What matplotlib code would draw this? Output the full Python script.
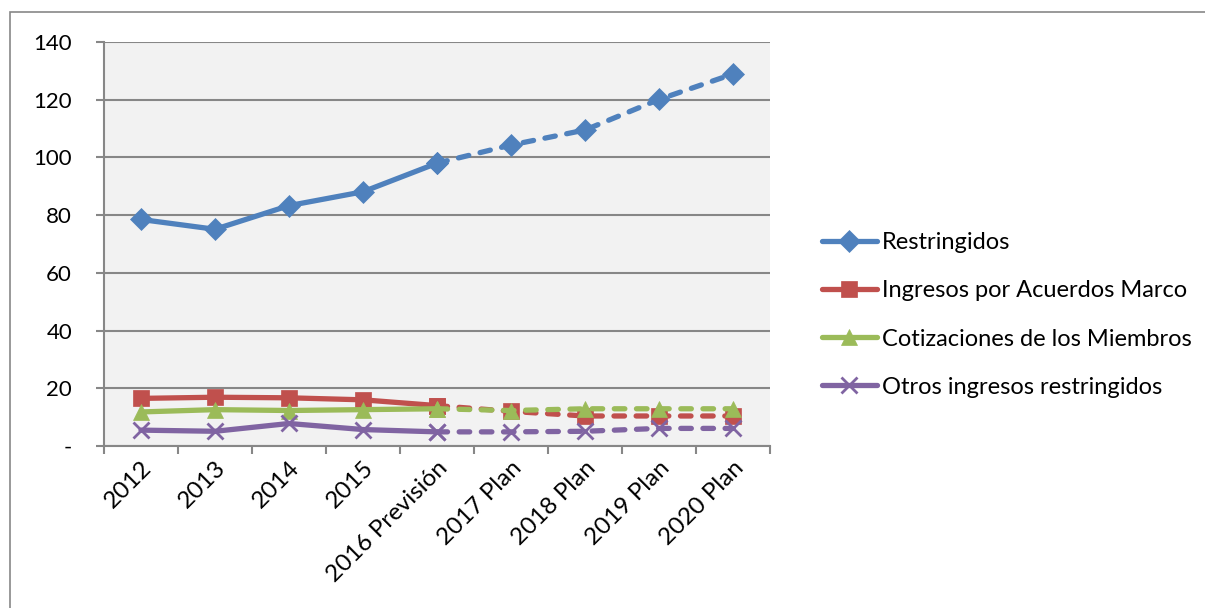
import matplotlib
matplotlib.use("Agg", force=True)
import matplotlib.pyplot as plt
from matplotlib.lines import Line2D
from matplotlib.patches import Rectangle

categories = ["2012", "2013", "2014", "2015", "2016 Previsión",
              "2017 Plan", "2018 Plan", "2019 Plan", "2020 Plan"]
restringidos = [78.5, 75.1, 83.3, 88.1, 98.0, 104.3, 109.5, 120.1, 128.9]
acuerdos_marco = [16.5, 16.9, 16.7, 16.0, 14.0, 12.0, 10.4, 10.4, 10.4]
cotizaciones = [11.8, 12.6, 12.3, 12.6, 12.9, 12.3, 12.9, 12.9, 12.9]
otros = [5.5, 5.1, 7.8, 5.7, 4.9, 4.9, 5.1, 6.1, 6.1]

series = [
    ("Restringidos", restringidos, "#4F81BD", "D", 11),
    ("Ingresos por Acuerdos Marco", acuerdos_marco, "#C0504D", "s", 11),
    ("Cotizaciones de los Miembros", cotizaciones, "#9BBB59", "^", 12),
    ("Otros ingresos restringidos", otros, "#8064A2", "x", 12),
]
split = 4  # last actual value; the rest is forecast / plan

plt.rcParams["font.family"] = ["Lato", "DejaVu Sans"]

fig = plt.figure(figsize=(12.05, 6.08), dpi=100)
W, H = 1205, 608
ax = fig.add_axes([104 / W, 1 - 446 / H, (770 - 104) / W, (446 - 42) / H])

# chart area border
fig.patches.append(Rectangle((10 / W, -0.01), 1.0, 1 - 12 / H + 0.01,
                             transform=fig.transFigure, fill=False,
                             edgecolor="#878787", linewidth=1.2))

ax.set_facecolor("#F2F2F2")
x = list(range(len(categories)))
handles = []
for name, vals, color, mk, ms in series:
    mkw = dict(marker=mk, markersize=ms, color=color, markerfacecolor=color,
               markeredgecolor=color, markeredgewidth=2 if mk == "x" else 0.5)
    ax.plot(x[:split + 1], vals[:split + 1], linewidth=3.8,
            solid_capstyle="round", zorder=3, **mkw)
    ax.plot(x[split:], vals[split:], linewidth=3.8, linestyle=(0, (2.0, 2.2)),
            dash_capstyle="round", zorder=3, **mkw)
    handles.append(Line2D([], [], linewidth=3.8, solid_capstyle="round", **mkw))

ax.set_xlim(-0.5, len(categories) - 0.5)
ax.set_ylim(0, 140)
ax.set_yticks(range(0, 141, 20))
ax.set_yticklabels(["-"] + [str(v) for v in range(20, 141, 20)])
ax.yaxis.grid(True, color="#878787", linewidth=1.5)
ax.set_axisbelow(True)

ax.set_xticks([i - 0.5 for i in range(len(categories) + 1)])
ax.set_xticklabels([])
ax.set_xticks(x, minor=True)
ax.set_xticklabels(categories, minor=True, rotation=45, ha="right",
                   rotation_mode="anchor", fontsize=17.5)
ax.tick_params(axis="x", which="minor", length=0, pad=8)
ax.tick_params(axis="x", which="major", length=6, width=1.5, color="#878787")
ax.tick_params(axis="y", length=6, width=1.5, color="#878787", labelsize=16, pad=17)

for side in ("top", "right"):
    ax.spines[side].set_visible(False)
for side in ("left", "bottom"):
    ax.spines[side].set_color("#878787")
    ax.spines[side].set_linewidth(1.5)

fig.legend(handles, [s[0] for s in series], loc="center left",
           bbox_to_anchor=(810 / W, 1 - 315 / H), frameon=False, borderpad=0,
           fontsize=17, handlelength=2.33, handletextpad=0.2,
           labelspacing=1.15)

fig.savefig("out.png", dpi=100)
